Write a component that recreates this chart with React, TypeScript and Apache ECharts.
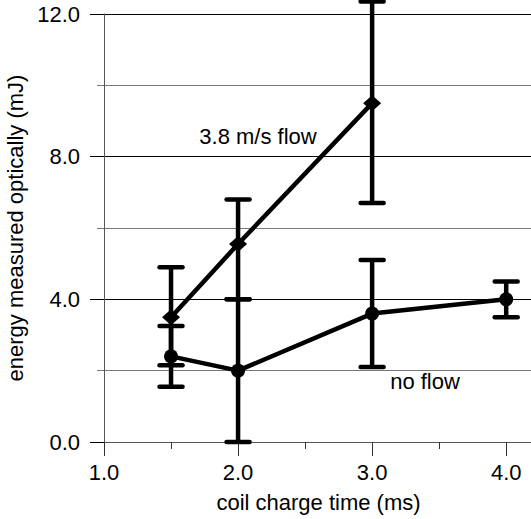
import React, { useEffect, useRef } from 'react';
import * as echarts from 'echarts';

const xFlow = [1.5, 2.0, 3.0];
const flowMean = [3.5, 5.55, 9.5];
const flowLow = [2.15, 4.0, 6.7];
const flowHigh = [4.9, 6.8, 12.35];

const xNoFlow = [1.5, 2.0, 3.0, 4.0];
const noFlowMean = [2.4, 2.0, 3.6, 4.0];
const noFlowLow = [1.55, 0.0, 2.1, 3.5];
const noFlowHigh = [3.25, 4.0, 5.1, 4.5];

const xMajorTicks = [1, 2, 3, 4];
const xMinorTicks = [1.5, 2.5, 3.5];
const xAxisName = 'coil charge time (ms)';
const yAxisName = 'energy measured optically (mJ)';
const flowLabel = '3.8 m/s flow';
const noFlowLabel = 'no flow';

const FONT = '"Liberation Sans", Arial, Helvetica, sans-serif';

export default function App() {
  const ref = useRef<HTMLDivElement>(null);
  useEffect(() => {
    document.body.style.margin = '0';
    if (!ref.current) return;
    const chart = echarts.init(ref.current, null, { renderer: 'svg' });

    const errStyle = { stroke: '#000', lineWidth: 4.5 };
    const renderErr = (params: any, api: any) => {
      const x = api.value(0);
      const lo = api.coord([x, api.value(1)]);
      const hi = api.coord([x, api.value(2)]);
      const hw = 11.5;
      return {
        type: 'group',
        children: [
          { type: 'line', shape: { x1: lo[0], y1: lo[1], x2: hi[0], y2: hi[1] }, style: { ...errStyle, lineCap: 'butt' } },
          { type: 'line', shape: { x1: lo[0] - hw, y1: lo[1], x2: lo[0] + hw, y2: lo[1] }, style: { ...errStyle, lineCap: 'round' } },
          { type: 'line', shape: { x1: hi[0] - hw, y1: hi[1], x2: hi[0] + hw, y2: hi[1] }, style: { ...errStyle, lineCap: 'round' } },
        ],
      };
    };

    const flowErr = xFlow.map((x, i) => [x, flowLow[i], flowHigh[i]]);
    const noFlowErr = xNoFlow.map((x, i) => [x, noFlowLow[i], noFlowHigh[i]]);

    chart.setOption({
      animation: false,
      backgroundColor: '#fff',
      textStyle: { fontFamily: FONT },
      grid: { left: 104, top: 14, bottom: 77, right: -2, containLabel: false, outerBoundsMode: 'none' },
      xAxis: [
        {
          type: 'value',
          min: 1,
          max: 4.2,
          interval: 1,
          position: 'bottom',
          name: xAxisName,
          nameLocation: 'middle',
          nameGap: 49,
          nameTextStyle: { fontSize: 22, color: '#000', fontFamily: FONT },
          axisLine: { show: true, onZero: false, lineStyle: { color: '#555', width: 1 } },
          axisTick: { show: true, inside: false, length: 14, customValues: xMajorTicks, lineStyle: { color: '#333', width: 1 } },
          axisLabel: { show: true, customValues: xMajorTicks, margin: 19, fontSize: 22, color: '#000', fontFamily: FONT, formatter: (v: number) => v.toFixed(1) },
          splitLine: { show: false },
          minorTick: { show: false },
        },
        {
          type: 'value',
          min: 1,
          max: 4.2,
          interval: 1,
          position: 'bottom',
          axisLine: { show: false },
          axisTick: { show: true, inside: false, length: 7, customValues: xMinorTicks, lineStyle: { color: '#333', width: 1 } },
          axisLabel: { show: false },
          splitLine: { show: false },
        },
      ],
      yAxis: {
        type: 'value',
        min: 0,
        max: 12,
        interval: 4,
        name: yAxisName,
        nameLocation: 'middle',
        nameGap: 73,
        nameTextStyle: { fontSize: 22, color: '#000', fontFamily: FONT },
        axisLine: { show: true, lineStyle: { color: '#555', width: 1 } },
        axisTick: { show: true, inside: false, length: 14, lineStyle: { color: '#000', width: 1 } },
        minorTick: { show: true, splitNumber: 2, length: 7, lineStyle: { color: '#777', width: 1 } },
        axisLabel: { margin: 24, fontSize: 22, color: '#000', fontFamily: FONT, formatter: (v: number) => v.toFixed(1) },
        splitLine: { show: true, lineStyle: { color: '#000', width: 1 } },
        minorSplitLine: { show: true, lineStyle: { color: '#777', width: 1 } },
      },
      series: [
        {
          type: 'custom',
          renderItem: renderErr,
          data: flowErr,
          encode: { x: 0, y: [1, 2] },
          clip: false,
          z: 3,
        },
        {
          type: 'custom',
          renderItem: renderErr,
          data: noFlowErr,
          encode: { x: 0, y: [1, 2] },
          clip: false,
          z: 3,
        },
        {
          type: 'line',
          data: xFlow.map((x, i) => [x, flowMean[i]]),
          symbol: 'diamond',
          symbolSize: [18, 16],
          showSymbol: true,
          itemStyle: { color: '#000' },
          lineStyle: { color: '#000', width: 4.5 },
          z: 4,
        },
        {
          type: 'line',
          data: xNoFlow.map((x, i) => [x, noFlowMean[i]]),
          symbol: 'circle',
          symbolSize: 14,
          showSymbol: true,
          itemStyle: { color: '#000' },
          lineStyle: { color: '#000', width: 4.5 },
          z: 4,
        },
      ],
      graphic: [
        {
          type: 'text',
          x: 258,
          y: 136,
          style: { text: flowLabel, fill: '#000', fontSize: 22, fontFamily: FONT, align: 'center', verticalAlign: 'middle' },
        },
        {
          type: 'text',
          x: 425,
          y: 381,
          style: { text: noFlowLabel, fill: '#000', fontSize: 22, fontFamily: FONT, align: 'center', verticalAlign: 'middle' },
        },
      ],
    });
    return () => chart.dispose();
  }, []);
  return <div ref={ref} style={{ width: 531, height: 519 }} />;
}
